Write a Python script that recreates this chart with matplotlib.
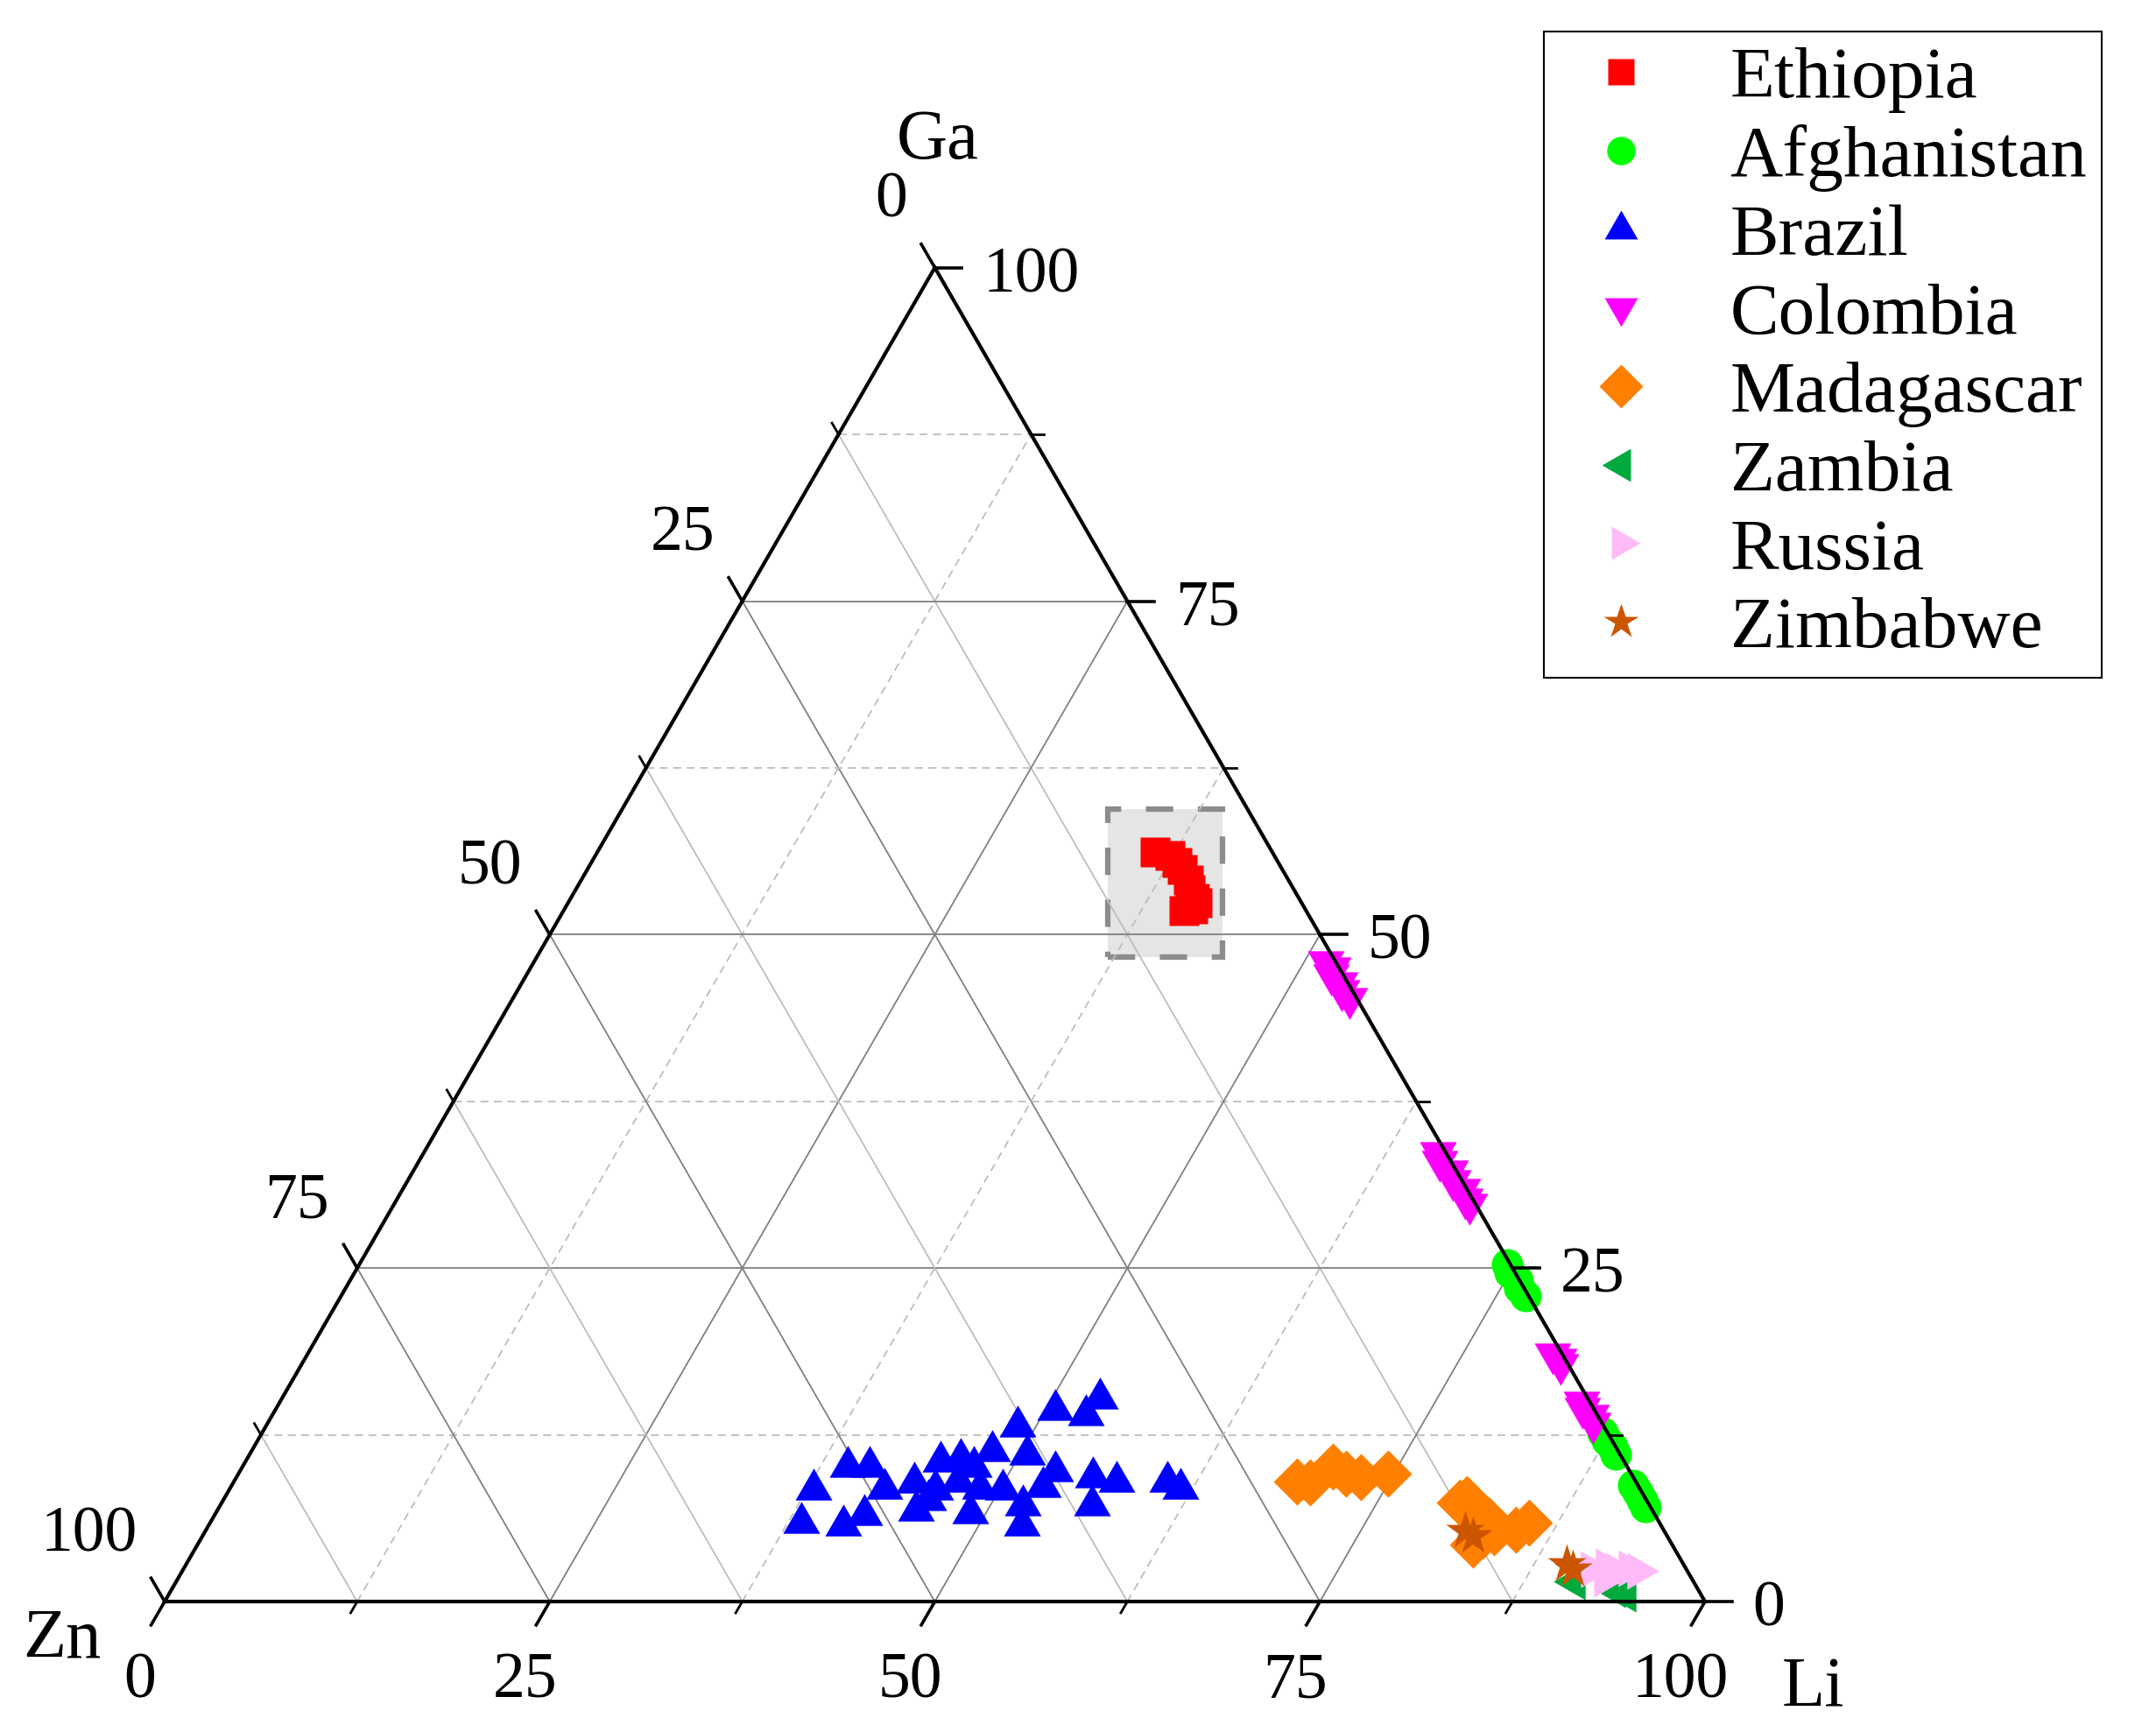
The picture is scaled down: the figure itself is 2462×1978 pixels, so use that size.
import numpy as np
import matplotlib
matplotlib.use("Agg")
import matplotlib.pyplot as plt
from matplotlib.patches import Rectangle

plt.rcParams["font.family"] = ["Liberation Serif", "DejaVu Serif"]

# ternary data in %: Li (bottom axis), Ga (right axis); Zn = 100 - Li - Ga
eth_li = [36.2, 37.3, 38.0, 38.6, 39.4, 39.9, 40.5, 40.8, 40.3, 40.8]
eth_ga = [56.2, 55.9, 55.4, 54.9, 54.1, 53.4, 52.7, 52.4, 51.8, 51.9]

afg_li = [74.5, 75.0, 75.8, 76.2, 76.9, 87.0, 87.6, 88.2, 88.7, 91.0, 91.5, 92.1, 92.6]
afg_ga = [25.3, 24.7, 24.1, 23.5, 22.9, 12.7, 12.1, 11.6, 11.0, 8.7, 8.2, 7.6, 7.1]

bra_li = [37.9, 38.4, 41.2, 39.3, 40.7, 42.2, 44.2, 45.4, 45.1, 46.3, 47.5, 48.1,
          48.8, 50.5, 50.6, 53.1, 52.8, 49.0, 50.2, 52.1, 52.8, 52.9, 55.6, 57.3,
          56.6, 60.6, 61.7, 45.8, 47.0, 52.7, 45.8, 42.5, 48.7]
bra_ga = [8.4, 5.9, 5.7, 10.1, 10.1, 6.5, 8.9, 6.8, 10.5, 10.7, 10.1, 11.3,
          13.1, 11.0, 14.4, 15.2, 14.0, 6.6, 8.4, 7.2, 5.7, 9.8, 9.3, 9.0,
          7.2, 9.0, 8.5, 8.4, 9.0, 8.6, 7.6, 8.5, 8.5]

col_li = [51.4, 52.1, 52.2, 53.1, 53.5, 54.3, 65.8, 66.3, 67.3, 67.8, 68.8, 69.3, 69.8,
          80.8, 81.4, 81.7, 84.5, 84.8, 85.6, 86.0]
col_ga = [48.0, 47.5, 47.0, 46.4, 45.8, 45.2, 33.7, 33.0, 32.3, 31.6, 30.9, 30.2, 29.8,
          18.6, 18.2, 17.8, 15.0, 14.5, 14.0, 13.4]

mad_li = [69.0, 69.9, 70.8, 71.9, 73.0, 74.6, 80.4, 80.7, 82.9, 83.7, 85.0, 85.6, 82.8, 83.1]
mad_ga = [9.0, 8.9, 10.1, 9.6, 9.3, 9.6, 7.4, 7.7, 6.1, 5.2, 5.4, 5.9, 4.3, 4.9]

zam_li = [90.8, 93.7, 94.5]
zam_ga = [1.5, 0.9, 0.6]

rus_li = [91.4, 92.3, 93.1, 93.8, 94.5, 92.6]
rus_ga = [2.4, 2.6, 2.3, 2.5, 2.3, 1.7]

zim_li = [81.8, 82.5, 89.6, 90.2]
zim_ga = [5.3, 4.9, 2.8, 2.4]

countries = ["Ethiopia", "Afghanistan", "Brazil", "Colombia",
             "Madagascar", "Zambia", "Russia", "Zimbabwe"]
series_li = [eth_li, afg_li, bra_li, col_li, mad_li, zam_li, rus_li, zim_li]
series_ga = [eth_ga, afg_ga, bra_ga, col_ga, mad_ga, zam_ga, rus_ga, zim_ga]
colors = ["#FF0000", "#00FF00", "#0000FF", "#FF00FF",
          "#FF8000", "#00AA3C", "#FFBBF7", "#CC5500"]
markers = ["s", "o", (3, 0, 0), (3, 0, 180), "D", (3, 0, 90), (3, 0, 270), "*"]
msizes = [24, 26, 35, 35, 28, 35, 35, 33]

ticks = [0, 12.5, 25, 37.5, 50, 62.5, 75, 87.5, 100]

H = np.sqrt(3) / 2


def tern_xy(li, ga):
    li = np.asarray(li, float) / 100
    ga = np.asarray(ga, float) / 100
    return li + ga / 2, ga * H


fig = plt.figure(figsize=(24.62, 19.78), dpi=100)
ax = fig.add_axes([0, 0, 1, 1])
ax.set_xlim(-0.1069, 1.2928)
ax.set_ylim(-0.0847, 1.0398)
ax.axis("off")

major_col = "#808080"
minor_col = "#BDBDBD"
dash = (0, (5, 3.5))

# grid
for v in ticks[1:-1]:
    major = v % 25 == 0
    c = major_col if major else minor_col
    ls = "-" if major else dash
    x, y = tern_xy([0, 100 - v], [v, v])          # Ga = v
    ax.plot(x, y, color=c, lw=1.3, ls=ls, zorder=1)
    x, y = tern_xy([v, v], [0, 100 - v])          # Li = v
    ax.plot(x, y, color=c, lw=1.3, ls=ls, zorder=1)
    x, y = tern_xy([100 - v, 0], [0, 100 - v])    # Zn = v
    ax.plot(x, y, color=c, lw=1.3, ls="-", zorder=1)

# highlight box around Ethiopia
ex, ey = tern_xy(eth_li, eth_ga)
x0, x1 = ex.min() - 0.031, ex.max() + 0.017
y0, y1 = ey.min() - 0.030, ey.max() + 0.028
ax.add_patch(Rectangle((x0, y0), x1 - x0, y1 - y0, facecolor="#E5E5E5",
                       edgecolor="#8C8C8C", lw=4.5, ls=(0, (5, 4.5)), zorder=0.5))

# data
for name, li, ga, c, m, ms in zip(countries, series_li, series_ga, colors, markers, msizes):
    x, y = tern_xy(li, ga)
    ax.plot(x, y, ls="none", marker=m, ms=ms, color=c, mec="none",
            label=name, zorder=3, clip_on=False)

# triangle frame
x, y = tern_xy([0, 100, 0, 0], [0, 0, 100, 0])
ax.plot(x, y, color="black", lw=3.0, zorder=5, solid_joinstyle="miter")

# ticks and tick labels
for v in ticks:
    major = v % 25 == 0
    L = 0.0176 if major else 0.0085
    lw = 2.6 if major else 2.0
    bx, by = tern_xy(v, 0)
    ax.plot([bx, bx - 0.5 * L], [by, by - H * L], color="black", lw=lw, zorder=5)
    rx, ry = tern_xy(100 - v, v)
    ax.plot([rx, rx + L], [ry, ry], color="black", lw=lw, zorder=5)
    lx, ly = tern_xy(0, 100 - v)
    ax.plot([lx, lx - 0.5 * L], [ly, ly + H * L], color="black", lw=lw, zorder=5)
    if major:
        lab = f"{v:g}"
        ax.text(bx - 0.016, by - 0.052, lab, ha="center", va="center", fontsize=53)
        ax.text(rx + 0.031, ry - 0.0055, lab, ha="left", va="center", fontsize=53)
        ax.text(lx - 0.018, ly + 0.043, lab, ha="right", va="center", fontsize=53)

# axis titles
tx, ty = tern_xy(0, 100)
ax.text(tx + 0.002, ty + 0.082, "Ga", ha="center", va="center", fontsize=58)
tx, ty = tern_xy(0, 0)
ax.text(tx - 0.0665, ty - 0.025, "Zn", ha="center", va="center", fontsize=58)
tx, ty = tern_xy(100, 0)
ax.text(tx + 0.070, ty - 0.057, "Li", ha="center", va="center", fontsize=58)

leg = ax.legend(loc="upper left", bbox_to_anchor=(0.7161, 0.9818),
                bbox_transform=fig.transFigure, fontsize=60, frameon=True,
                fancybox=False, framealpha=1, edgecolor="black", borderpad=0.2,
                handlelength=1.72, handletextpad=0.63, labelspacing=0.16,
                borderaxespad=0, numpoints=1, markerscale=0.9)
leg.get_frame().set_linewidth(1.5)

fig.savefig("out.png", dpi=100)
plt.close(fig)
